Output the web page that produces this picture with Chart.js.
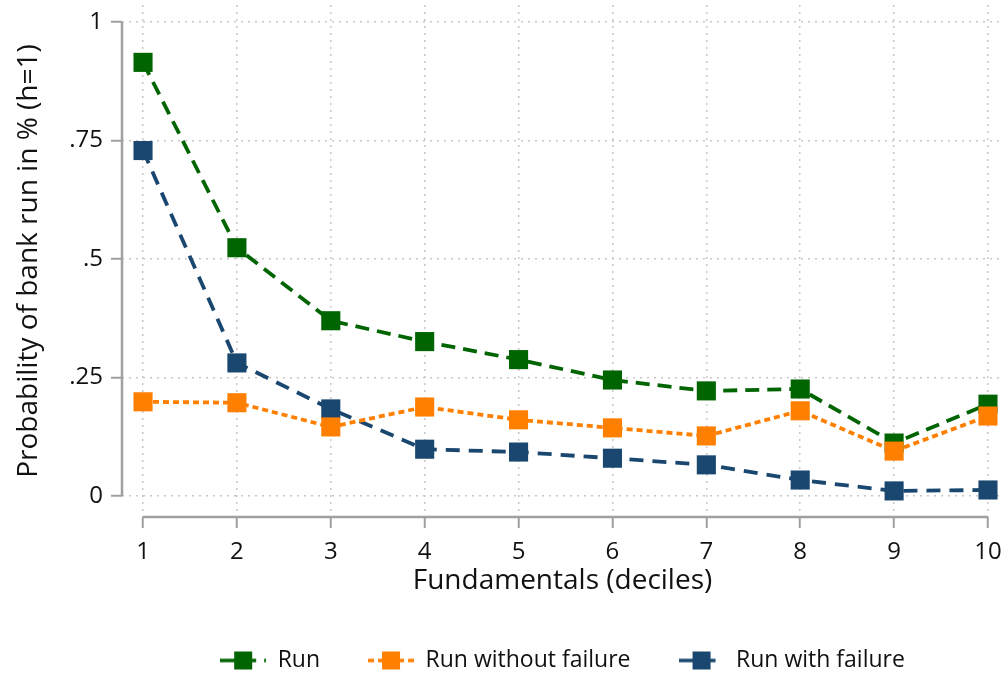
<!DOCTYPE html>
<html>
<head>
<meta charset="utf-8">
<script src="https://cdn.jsdelivr.net/npm/chart.js@4"></script>
<style>
  html, body { margin: 0; padding: 0; background: #fff; }
  #wrap { width: 1005px; height: 679px; }
</style>
</head>
<body>
<div id="wrap"><canvas id="chart" width="1005" height="679"></canvas></div>
<script>
// values
const deciles = [1, 2, 3, 4, 5, 6, 7, 8, 9, 10];
const run = [0.915, 0.524, 0.370, 0.326, 0.288, 0.245, 0.222, 0.226, 0.112, 0.194];
const runWithoutFailure = [0.199, 0.197, 0.146, 0.188, 0.161, 0.144, 0.127, 0.180, 0.095, 0.169];
const runWithFailure = [0.729, 0.281, 0.184, 0.099, 0.093, 0.080, 0.066, 0.034, 0.011, 0.013];
const yTicks = [0, 0.25, 0.5, 0.75, 1];
const yTickLabels = ['0', '.25', '.5', '.75', '1'];

const FONT = 'Open Sans';
const AXIS = '#a0a0a0';
const GREEN = '#006400';
const ORANGE = '#ff7f00';
const NAVY = '#1a476f';

// little legend symbol: dashed line with a square in the middle
function legendSymbol(color, dash) {
  const c = document.createElement('canvas');
  c.width = 46; c.height = 20;
  const g = c.getContext('2d');
  g.strokeStyle = color;
  g.lineWidth = 3.5;
  g.setLineDash(dash);
  g.beginPath();
  g.moveTo(0, 10); g.lineTo(46, 10);
  g.stroke();
  g.fillStyle = color;
  g.fillRect(14, 1, 18, 18);
  return c;
}

// Stata style axes: lines only over the tick range, set apart from the plot
const axisLines = {
  id: 'axisLines',
  afterLayout(chart) {
    // center the legend under the plot region, not the whole canvas
    const lg = chart.legend, ca = chart.chartArea;
    const shift = (ca.left + ca.right) / 2 - (lg.left + lg.right) / 2;
    lg.left += shift;
    lg.right += shift;
  },
  beforeDatasetsDraw(chart) {
    const { ctx, scales: { x, y }, chartArea } = chart;
    ctx.save();
    ctx.strokeStyle = AXIS;
    ctx.lineWidth = 2.5;
    ctx.setLineDash([]);
    ctx.beginPath();
    ctx.moveTo(chartArea.left, y.getPixelForValue(yTicks[0]));
    ctx.lineTo(chartArea.left, y.getPixelForValue(yTicks[yTicks.length - 1]));
    ctx.moveTo(x.getPixelForValue(deciles[0]), chartArea.bottom);
    ctx.lineTo(x.getPixelForValue(deciles[deciles.length - 1]), chartArea.bottom);
    ctx.stroke();
    ctx.restore();
  }
};

function ds(label, data, color, dash, order) {
  return {
    label: label,
    data: deciles.map((d, i) => ({ x: d, y: data[i] })),
    borderColor: color,
    backgroundColor: color,
    borderWidth: 3.8,
    borderDash: dash,
    pointStyle: 'rect',
    pointRadius: 13.5,
    pointHoverRadius: 13.5,
    pointBorderWidth: 0,
    tension: 0,
    clip: false,
    order: order,
    symbol: legendSymbol(color, dash)
  };
}

const gridOpts = {
  color: '#c8c8c8',
  lineWidth: 1.5,
  tickLength: 11,
  tickColor: AXIS,
  tickWidth: 2,
  tickBorderDash: []
};

new Chart(document.getElementById('chart'), {
  type: 'line',
  data: {
    datasets: [
      ds('Run', run, GREEN, [14, 8], 3),
      ds('Run without failure', runWithoutFailure, ORANGE, [6, 4], 1),
      ds('Run with failure', runWithFailure, NAVY, [14, 9], 2)
    ]
  },
  options: {
    responsive: false,
    animation: false,
    layout: { autoPadding: false, padding: { left: 12, top: 5, right: 2, bottom: -3 } },
    scales: {
      x: {
        type: 'linear',
        min: 0.776,
        max: 10.16,
        afterBuildTicks: (s) => { s.ticks = deciles.map(v => ({ value: v })); },
        afterFit: (s) => { s.height = 84; s.paddingLeft = 0; s.paddingRight = 0; },
        ticks: { font: { family: FONT, size: 24 }, color: '#111', padding: 10, maxRotation: 0 },
        grid: gridOpts,
        border: { display: false, dash: [2, 5] },
        title: {
          display: true,
          text: 'Fundamentals (deciles)',
          font: { family: FONT, size: 28 },
          color: '#111',
          padding: { top: 0, bottom: 3 }
        }
      },
      y: {
        type: 'linear',
        min: -0.044,
        max: 1.036,
        afterBuildTicks: (s) => { s.ticks = yTicks.map(v => ({ value: v })); },
        afterFit: (s) => { s.width = 110; s.paddingTop = 0; s.paddingBottom = 0; },
        ticks: {
          font: { family: FONT, size: 24 },
          color: '#111',
          padding: 8,
          callback: (v) => yTickLabels[yTicks.indexOf(v)]
        },
        grid: gridOpts,
        border: { display: false, dash: [2, 5] },
        title: {
          display: true,
          text: 'Probability of bank run in % (h=1)',
          font: { family: FONT, size: 28 },
          color: '#111',
          padding: 0
        }
      }
    },
    plugins: {
      tooltip: { enabled: false },
      legend: {
        position: 'bottom',
        labels: {
          usePointStyle: true,
          pointStyleWidth: 46,
          padding: 48,
          color: '#111',
          font: { family: FONT, size: 23 },
          sort: (a, b) => a.datasetIndex - b.datasetIndex,
          generateLabels: (chart) => chart.data.datasets.map((d, i) => ({
            text: d.label,
            datasetIndex: i,
            pointStyle: d.symbol,
            fillStyle: d.borderColor,
            strokeStyle: d.borderColor,
            lineWidth: 0,
            hidden: false,
            fontColor: '#111'
          }))
        }
      }
    }
  },
  plugins: [axisLines]
});
</script>
</body>
</html>
